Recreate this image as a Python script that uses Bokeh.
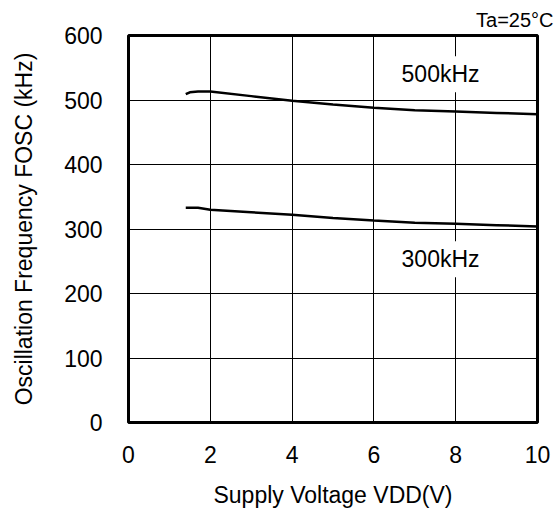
from bokeh.plotting import figure
from bokeh.models import Label, Range1d, FixedTicker, Title
from bokeh.embed import file_html
from bokeh.resources import INLINE

# Data
vdd_500 = [1.4, 1.5, 1.7, 2.0, 3.0, 4.0, 5.0, 6.0, 7.0, 8.0, 9.0, 10.0]
fosc_500 = [509, 512, 513, 513, 506, 499, 493, 488, 484, 482, 480, 478]
vdd_300 = [1.4, 1.7, 2.0, 3.0, 4.0, 5.0, 6.0, 7.0, 8.0, 9.0, 10.0]
fosc_300 = [333, 333, 330, 326, 322, 317, 313, 309.5, 308, 306, 304]
x_ticks = [0, 2, 4, 6, 8, 10]
y_ticks = [0, 100, 200, 300, 400, 500, 600]

FONT = "Liberation Sans"
FS = "23px"

p = figure(width=558, height=515, output_backend="svg", toolbar_location=None,
           x_range=Range1d(0, 10), y_range=Range1d(0, 600),
           min_border_left=128, min_border_right=21, min_border_top=35,
           min_border_bottom=93)
p.background_fill_color = "white"
p.border_fill_color = "white"
p.outline_line_color = "black"
p.outline_line_width = 3

for ax in (p.xaxis[0], p.yaxis[0]):
    ax.axis_line_color = None
    ax.major_tick_line_color = None
    ax.minor_tick_line_color = None
    ax.major_label_text_font = FONT
    ax.major_label_text_font_size = FS
    ax.major_label_text_color = "black"
    ax.axis_label_text_font = FONT
    ax.axis_label_text_font_size = FS
    ax.axis_label_text_font_style = "normal"
    ax.axis_label_text_color = "black"

p.xaxis.ticker = FixedTicker(ticks=x_ticks)
p.yaxis.ticker = FixedTicker(ticks=y_ticks)
p.xaxis.axis_label = "Supply Voltage VDD(V)"
p.yaxis.axis_label = "Oscillation Frequency FOSC (kHz)"
p.xaxis.major_label_standoff = 17
p.xaxis.axis_label_standoff = 16
p.yaxis.major_label_standoff = 20
p.yaxis.axis_label_standoff = 24

p.xgrid.ticker = FixedTicker(ticks=x_ticks)
p.ygrid.ticker = FixedTicker(ticks=y_ticks)
for g in (p.xgrid[0], p.ygrid[0]):
    g.grid_line_color = "black"
    g.grid_line_width = 1
    g.grid_line_alpha = 1.0

p.line(vdd_500, fosc_500, line_color="black", line_width=2.5)
p.line(vdd_300, fosc_300, line_color="black", line_width=2.5)

p.add_layout(Label(x=7.63, y=540, text="500kHz", text_align="center",
                   text_baseline="middle", text_font=FONT,
                   text_font_size=FS, text_color="black",
                   background_fill_color="white", padding=5))
p.add_layout(Label(x=7.63, y=253, text="300kHz", text_align="center",
                   text_baseline="middle", text_font=FONT,
                   text_font_size=FS, text_color="black",
                   background_fill_color="white", padding=5))

p.add_layout(Title(text="Ta=25\u00b0C", align="right", offset=-16, standoff=10,
                   text_font=FONT, text_font_size="20px",
                   text_font_style="normal", text_color="black"), "above")

open("out.html", "w").write(file_html(p, INLINE))
